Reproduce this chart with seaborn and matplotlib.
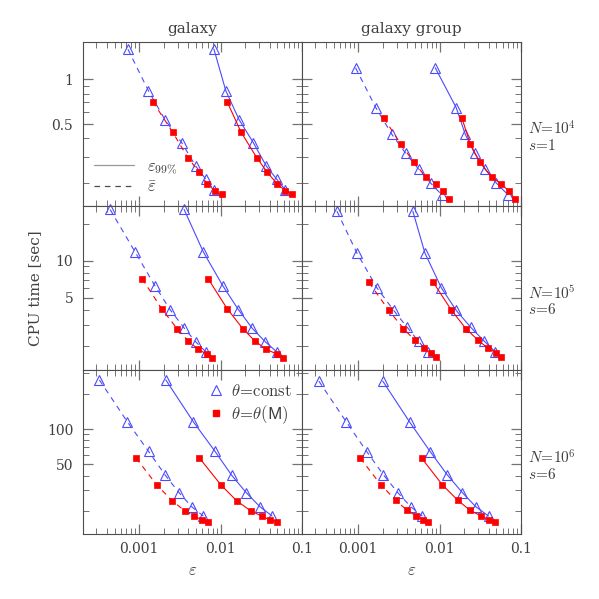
import numpy as np
import matplotlib.pyplot as plt
import matplotlib as mpl
import pandas as pd
import seaborn as sns
from matplotlib.lines import Line2D
from matplotlib.ticker import LogLocator, FixedLocator, FixedFormatter, NullFormatter

# CPU time vs force error, theta=const (triangles) and theta=theta(M) (squares)
# "bar" = mean error, "99" = 99th percentile error

# galaxy, N=1e4, s=1
cpu_const_gal4 = [1.60, 0.84, 0.535, 0.374, 0.26, 0.212, 0.18]
bar_const_gal4 = [7.3e-4, 1.30e-3, 2.08e-3, 3.34e-3, 4.96e-3, 6.6e-3, 8.3e-3]
e99_const_gal4 = [8.3e-3, 0.0116, 0.0169, 0.0253, 0.0365, 0.049, 0.0624]
cpu_mass_gal4 = [0.71, 0.44, 0.297, 0.236, 0.197, 0.178, 0.168]
bar_mass_gal4 = [1.47e-3, 2.59e-3, 3.96e-3, 5.5e-3, 6.83e-3, 8.49e-3, 0.0104]
e99_mass_gal4 = [0.0120, 0.0179, 0.0278, 0.0375, 0.0497, 0.0618, 0.0754]

# galaxy group, N=1e4, s=1
cpu_const_grp4 = [1.20, 0.646, 0.426, 0.318, 0.247, 0.20, 0.167]
bar_const_grp4 = [9.3e-4, 1.65e-3, 2.60e-3, 3.83e-3, 5.57e-3, 7.76e-3, 0.0106]
e99_const_grp4 = [8.85e-3, 0.0160, 0.0207, 0.0269, 0.0364, 0.0497, 0.0689]
cpu_mass_grp4 = [0.55, 0.368, 0.278, 0.219, 0.197, 0.177, 0.157]
bar_mass_grp4 = [2.07e-3, 3.32e-3, 4.80e-3, 6.79e-3, 8.93e-3, 0.0111, 0.0129]
e99_mass_grp4 = [0.0188, 0.0238, 0.031, 0.0439, 0.0572, 0.0708, 0.0832]

# galaxy, N=1e5, s=6
cpu_const_gal5 = [26.2, 11.8, 6.27, 4.0, 2.81, 2.18, 1.80]
bar_const_gal5 = [4.41e-4, 8.93e-4, 1.56e-3, 2.40e-3, 3.60e-3, 4.96e-3, 6.64e-3]
e99_const_gal5 = [3.57e-3, 6.15e-3, 0.01063, 0.01653, 0.0245, 0.0355, 0.0493]
cpu_mass_gal5 = [7.14, 4.05, 2.80, 2.22, 1.90, 1.73, 1.62]
bar_mass_gal5 = [1.09e-3, 1.90e-3, 2.92e-3, 4.02e-3, 5.25e-3, 6.83e-3, 7.93e-3]
e99_mass_gal5 = [7.03e-3, 0.0121, 0.0187, 0.0263, 0.0362, 0.0493, 0.0585]

# galaxy group, N=1e5, s=6
cpu_const_grp5 = [25.4, 11.6, 6.03, 3.94, 2.86, 2.20, 1.80]
bar_const_grp5 = [5.5e-4, 9.66e-4, 1.70e-3, 2.73e-3, 4.02e-3, 5.52e-3, 7.18e-3]
e99_const_grp5 = [4.70e-3, 6.6e-3, 0.0105, 0.0160, 0.0242, 0.0356, 0.0486]
cpu_mass_grp5 = [6.67, 3.95, 2.80, 2.24, 1.95, 1.78, 1.65]
bar_mass_grp5 = [1.36e-3, 2.37e-3, 3.61e-3, 4.98e-3, 6.36e-3, 7.76e-3, 9.02e-3]
e99_mass_grp5 = [8.38e-3, 0.0140, 0.0210, 0.0299, 0.0388, 0.0491, 0.0571]

# galaxy, N=1e6, s=6
cpu_const_gal6 = [264, 115.5, 64.4, 40.2, 28.5, 21.6, 18.0]
bar_const_gal6 = [3.26e-4, 7.18e-4, 1.31e-3, 2.10e-3, 3.10e-3, 4.43e-3, 6.15e-3]
e99_const_gal6 = [2.13e-3, 4.64e-3, 8.57e-3, 0.0137, 0.0207, 0.0305, 0.0429]
cpu_mass_gal6 = [56.6, 33.0, 24.3, 19.9, 18.0, 16.7, 16.1]
bar_mass_gal6 = [9.18e-4, 1.66e-3, 2.56e-3, 3.64e-3, 4.73e-3, 5.88e-3, 7.03e-3]
e99_mass_gal6 = [5.50e-3, 0.0102, 0.0158, 0.0235, 0.0321, 0.0402, 0.0493]

# galaxy group, N=1e6, s=6
cpu_const_grp6 = [258, 115.5, 64.1, 40.7, 28.5, 21.6, 18.0]
bar_const_grp6 = [3.30e-4, 7.16e-4, 1.28e-3, 2.04e-3, 3.08e-3, 4.44e-3, 6.14e-3]
e99_const_grp6 = [2.01e-3, 4.28e-3, 7.69e-3, 0.0124, 0.0191, 0.0279, 0.0399]
cpu_mass_grp6 = [56.6, 33.4, 24.5, 20.2, 18.1, 16.8, 16.1]
bar_mass_grp6 = [1.06e-3, 1.90e-3, 2.91e-3, 3.97e-3, 5.12e-3, 6.31e-3, 7.26e-3]
e99_mass_grp6 = [6.01e-3, 0.0108, 0.0168, 0.0236, 0.0319, 0.0403, 0.0477]

col_titles = ['galaxy', 'galaxy group']
row_labels = [(r'$N\!=\!10^4$', r'$s\!=\!1$'),
              (r'$N\!=\!10^5$', r'$s\!=\!6$'),
              (r'$N\!=\!10^6$', r'$s\!=\!6$')]
row_ylims = [(0.14, 1.8), (1.28, 28), (12.5, 320)]
row_yticks = [[0.5, 1], [5, 10], [50, 100]]
row_yticklabels = [['0.5', '1'], ['5', '10'], ['50', '100']]
xticks = [1e-3, 1e-2, 1e-1]
xticklabels = ['0.001', '0.01', '0.1']

sns.set_style('ticks')
mpl.rc('font', family=['DejaVu Serif'], size=10)
mpl.rc('mathtext', fontset='cm')
mpl.rc('lines', scale_dashes=False)

BLUE = '#4a4aff'
RED = '#ff0000'
DASH = (0, (4, 3.5))
TXT = '0.25'


def draw_panel(ax, cpu_c, bar_c, e99_c, cpu_m, bar_m, e99_m):
    series = [(bar_c, cpu_c, BLUE, '^', DASH),
              (e99_c, cpu_c, BLUE, '^', '-'),
              (bar_m, cpu_m, RED, 's', DASH),
              (e99_m, cpu_m, RED, 's', '-')]
    for eps, cpu, color, marker, ls in series:
        df = pd.DataFrame({'eps': eps, 'cpu': cpu})
        if marker == '^':
            mkw = dict(markersize=6.5, markerfacecolor='none', markeredgecolor=color,
                       markeredgewidth=0.8)
        else:
            mkw = dict(markersize=5, markerfacecolor=color, markeredgecolor=color,
                       markeredgewidth=0.5)
        sns.lineplot(data=df, x='eps', y='cpu', ax=ax, sort=False, color=color,
                     linewidth=0.8, linestyle=ls, marker=marker, clip_on=False, **mkw)
    ax.set_xlabel('')
    ax.set_ylabel('')


panels = [
    [(cpu_const_gal4, bar_const_gal4, e99_const_gal4, cpu_mass_gal4, bar_mass_gal4, e99_mass_gal4),
     (cpu_const_grp4, bar_const_grp4, e99_const_grp4, cpu_mass_grp4, bar_mass_grp4, e99_mass_grp4)],
    [(cpu_const_gal5, bar_const_gal5, e99_const_gal5, cpu_mass_gal5, bar_mass_gal5, e99_mass_gal5),
     (cpu_const_grp5, bar_const_grp5, e99_const_grp5, cpu_mass_grp5, bar_mass_grp5, e99_mass_grp5)],
    [(cpu_const_gal6, bar_const_gal6, e99_const_gal6, cpu_mass_gal6, bar_mass_gal6, e99_mass_gal6),
     (cpu_const_grp6, bar_const_grp6, e99_const_grp6, cpu_mass_grp6, bar_mass_grp6, e99_mass_grp6)],
]

fig, axes = plt.subplots(3, 2, figsize=(5.99, 5.99), dpi=100,
                         gridspec_kw=dict(left=0.1386, right=0.8698, top=0.9304,
                                          bottom=0.1077, hspace=0, wspace=0))

for i in range(3):
    for j in range(2):
        ax = axes[i, j]
        ax.set_xscale('log')
        ax.set_yscale('log')
        draw_panel(ax, *panels[i][j])
        ax.set_xlim(2.05e-4, 0.1)
        ax.set_ylim(*row_ylims[i])

        ax.xaxis.set_major_locator(FixedLocator(xticks))
        ax.xaxis.set_minor_locator(LogLocator(base=10, subs=np.arange(2, 10), numticks=20))
        ax.xaxis.set_minor_formatter(NullFormatter())
        if i == 2:
            ax.xaxis.set_major_formatter(FixedFormatter(xticklabels))
        else:
            ax.xaxis.set_major_formatter(NullFormatter())

        ax.yaxis.set_major_locator(FixedLocator(row_yticks[i]))
        ax.yaxis.set_minor_locator(LogLocator(base=10, subs=np.arange(2, 10), numticks=20))
        ax.yaxis.set_minor_formatter(NullFormatter())
        if j == 0:
            ax.yaxis.set_major_formatter(FixedFormatter(row_yticklabels[i]))
        else:
            ax.yaxis.set_major_formatter(NullFormatter())

        ax.tick_params(which='both', direction='in', top=True, right=True,
                       color='0.45', labelcolor=TXT, labelsize=10)
        ax.tick_params(which='major', length=7.5, width=0.9)
        ax.tick_params(which='minor', length=4, width=0.7)
        ax.tick_params(axis='x', pad=5.5)
        ax.tick_params(axis='y', pad=7)
        for sp in ax.spines.values():
            sp.set_color('0.3')
            sp.set_linewidth(0.8)
        if i == 2:
            ax.set_xlabel(r'$\varepsilon$', fontsize=12, color=TXT, labelpad=4)
        if i == 0:
            ax.set_title(col_titles[j], fontsize=11, color=TXT, pad=6)
    ax = axes[i, 1]
    ax.text(1.03, 0.468, row_labels[i][0], transform=ax.transAxes, ha='left', va='center',
            fontsize=11, color=TXT)
    ax.text(1.03, 0.368, row_labels[i][1], transform=ax.transAxes, ha='left', va='center',
            fontsize=11, color=TXT)

axes[1, 0].set_ylabel('CPU time [sec]', fontsize=11, color=TXT)
axes[1, 0].yaxis.set_label_coords(-0.185, 0.5)

# line-style legend (top left)
style_handles = [Line2D([], [], color='0.6', lw=0.9, ls='-'),
                 Line2D([], [], color='0.3', lw=0.9, ls=DASH)]
axes[0, 0].legend(style_handles, [r'$\varepsilon_{99\%}$', r'$\bar{\varepsilon}$'],
                  loc='lower left', bbox_to_anchor=(0.05, 0.06), frameon=False,
                  handlelength=2.4, handletextpad=0.8, borderpad=0, borderaxespad=0,
                  labelspacing=0.15, fontsize=12, labelcolor=TXT)

# marker legend (bottom left)
marker_handles = [Line2D([], [], ls='none', marker='^', markersize=6.5, markerfacecolor='none',
                         markeredgecolor=BLUE, markeredgewidth=0.8),
                  Line2D([], [], ls='none', marker='s', markersize=5, color=RED)]
axes[2, 0].legend(marker_handles, [r'$\theta\!=\!\mathrm{const}$', r'$\theta\!=\!\theta(\mathsf{M})$'],
                  loc='upper left', bbox_to_anchor=(0.571, 0.925), frameon=False,
                  handlelength=1.0, handletextpad=0.35, borderpad=0, borderaxespad=0,
                  labelspacing=0.2, fontsize=12, labelcolor=TXT)

plt.savefig('out.png', dpi=100, facecolor='white')
